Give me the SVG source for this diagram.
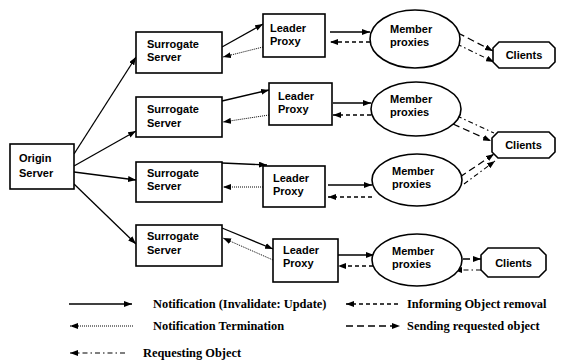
<svg xmlns="http://www.w3.org/2000/svg" width="561" height="363" viewBox="0 0 561 363">
<defs>
<marker id="ah" markerUnits="userSpaceOnUse" markerWidth="8" markerHeight="6" refX="8" refY="3" orient="auto-start-reverse">
<path d="M0,0 L8,3 L0,6 z" fill="#000"/>
</marker>
<style>
.box{fill:#fff;stroke:#000;stroke-width:1.6}
.lbl{font-family:"Liberation Sans",Arial,sans-serif;font-weight:bold;font-size:11px;fill:#000}
.lg{font-family:"Liberation Serif","Times New Roman",serif;font-weight:bold;font-size:12.4px;fill:#000}
.c{fill:none;stroke:#000}
.solid{stroke-width:1.3;marker-end:url(#ah)}
.dot{stroke-width:1;stroke-dasharray:1 1;marker-end:url(#ah)}
.short{stroke-width:1.3;stroke-dasharray:4 3;marker-end:url(#ah)}
.long{stroke-width:1.3;stroke-dasharray:7 4;marker-end:url(#ah)}
.dd{stroke-width:1.1;stroke-dasharray:5 3 1.5 3}
</style>
</defs>
<rect width="561" height="363" fill="#fff"/>

<g id="connectors">
<line class="c solid" x1="74" y1="154" x2="136" y2="57"/>
<line class="c solid" x1="74" y1="166" x2="136" y2="131"/>
<line class="c solid" x1="74" y1="172" x2="136" y2="180"/>
<line class="c solid" x1="74" y1="184" x2="136" y2="244"/>
<line class="c solid" x1="222" y1="47" x2="263" y2="24"/>
<line class="c dot" x1="263" y1="47" x2="223" y2="57"/>
<line class="c solid" x1="222" y1="101" x2="269" y2="90"/>
<line class="c dot" x1="269" y1="115" x2="223" y2="122"/>
<line class="c solid" x1="222" y1="163" x2="267" y2="165"/>
<line class="c dot" x1="263" y1="187" x2="223" y2="187"/>
<line class="c solid" x1="222" y1="228" x2="273" y2="249"/>
<line class="c dot" x1="273" y1="260" x2="223" y2="238"/>
<line class="c solid" x1="330" y1="32" x2="370" y2="32"/>
<line class="c short" x1="370" y1="42" x2="330" y2="42"/>
<line class="c solid" x1="333" y1="103" x2="371" y2="103"/>
<line class="c short" x1="371" y1="115" x2="333" y2="115"/>
<line class="c solid" x1="328" y1="185" x2="372" y2="185"/>
<line class="c short" x1="372" y1="197" x2="328" y2="197"/>
<line class="c solid" x1="338" y1="255" x2="374" y2="255"/>
<line class="c short" x1="373" y1="266" x2="338" y2="266"/>
<line class="c long" x1="458" y1="33" x2="493" y2="51"/>
<line class="c dd" x1="457" y1="44" x2="494" y2="62" marker-end="url(#ah)"/>
<line class="c dd" x1="457" y1="116" x2="494" y2="133"/>
<line class="c long" x1="453" y1="124" x2="491" y2="141"/>
<line class="c long" x1="460" y1="177" x2="494" y2="154"/>
<line class="c dd" x1="464" y1="184" x2="495" y2="161" marker-end="url(#ah)"/>
<line class="c long" x1="452" y1="259" x2="481" y2="259"/>
<line class="c dd" x1="481" y1="270" x2="454" y2="270" marker-end="url(#ah)"/>
<line class="c solid" x1="69" y1="304" x2="132" y2="304"/>
<line class="c dot" x1="133" y1="326" x2="70" y2="326"/>
<line class="c dd" x1="125" y1="353" x2="70" y2="353" marker-end="url(#ah)"/>
<line class="c short" x1="398" y1="304" x2="346" y2="304"/>
<line class="c long" x1="346" y1="326" x2="400" y2="326"/>
</g>

<g id="origin">
<rect class="box" x="10" y="144" width="64" height="45"/>
<text class="lbl" x="19" y="162">Origin</text>
<text class="lbl" x="19" y="177">Server</text>
</g>

<g id="surrogate1">
<rect class="box" x="136" y="32" width="86" height="41"/>
<text class="lbl" x="147" y="48">Surrogate</text>
<text class="lbl" x="147" y="61">Server</text>
</g>
<g id="surrogate2">
<rect class="box" x="136" y="97" width="86" height="40"/>
<text class="lbl" x="147" y="113">Surrogate</text>
<text class="lbl" x="147" y="127">Server</text>
</g>
<g id="surrogate3">
<rect class="box" x="136" y="162" width="86" height="40"/>
<text class="lbl" x="147" y="177">Surrogate</text>
<text class="lbl" x="147" y="190">Server</text>
</g>
<g id="surrogate4">
<rect class="box" x="136" y="225" width="86" height="41"/>
<text class="lbl" x="147" y="240">Surrogate</text>
<text class="lbl" x="147" y="254">Server</text>
</g>

<g id="leader1">
<rect class="box" x="263" y="14" width="62" height="43"/>
<text class="lbl" x="270" y="32">Leader</text>
<text class="lbl" x="270" y="45">Proxy</text>
</g>
<g id="leader2">
<rect class="box" x="269" y="83" width="63" height="42"/>
<text class="lbl" x="278" y="100">Leader</text>
<text class="lbl" x="278" y="113">Proxy</text>
</g>
<g id="leader3">
<rect class="box" x="263" y="166" width="62" height="41"/>
<text class="lbl" x="273" y="182">Leader</text>
<text class="lbl" x="273" y="195">Proxy</text>
</g>
<g id="leader4">
<rect class="box" x="273" y="239" width="65" height="43"/>
<text class="lbl" x="283" y="254">Leader</text>
<text class="lbl" x="283" y="267">Proxy</text>
</g>

<g id="member1">
<ellipse class="box" cx="415" cy="39" rx="45" ry="29"/>
<text class="lbl" x="390" y="33">Member</text>
<text class="lbl" x="390" y="46">proxies</text>
</g>
<g id="member2">
<ellipse class="box" cx="416" cy="109" rx="45" ry="27"/>
<text class="lbl" x="390" y="103">Member</text>
<text class="lbl" x="390" y="116">proxies</text>
</g>
<g id="member3">
<ellipse class="box" cx="417" cy="180" rx="45" ry="26"/>
<text class="lbl" x="392" y="175">Member</text>
<text class="lbl" x="392" y="188">proxies</text>
</g>
<g id="member4">
<ellipse class="box" cx="417" cy="260" rx="45" ry="26"/>
<text class="lbl" x="392" y="255">Member</text>
<text class="lbl" x="392" y="268">proxies</text>
</g>

<g id="clients1">
<polygon class="box" points="499,42 549,42 555,48 555,62 549,68 499,68 493,62 493,48"/>
<text class="lbl" x="524" y="59" text-anchor="middle">Clients</text>
</g>
<g id="clients2">
<polygon class="box" points="498,132 549,132 555,138 555,152 549,158 498,158 492,152 492,138"/>
<text class="lbl" x="523.5" y="149" text-anchor="middle">Clients</text>
</g>
<g id="clients3">
<polygon class="box" points="488,248 539,248 546,255 546,270 539,277 488,277 481,270 481,255"/>
<text class="lbl" x="513.5" y="267" text-anchor="middle">Clients</text>
</g>

<g id="legend">
<text class="lg" x="153" y="308">Notification (Invalidate: Update)</text>
<text class="lg" x="153" y="330">Notification Termination</text>
<text class="lg" x="143" y="357">Requesting Object</text>
<text class="lg" x="407" y="308">Informing Object removal</text>
<text class="lg" x="407" y="330">Sending requested object</text>
</g>
</svg>
